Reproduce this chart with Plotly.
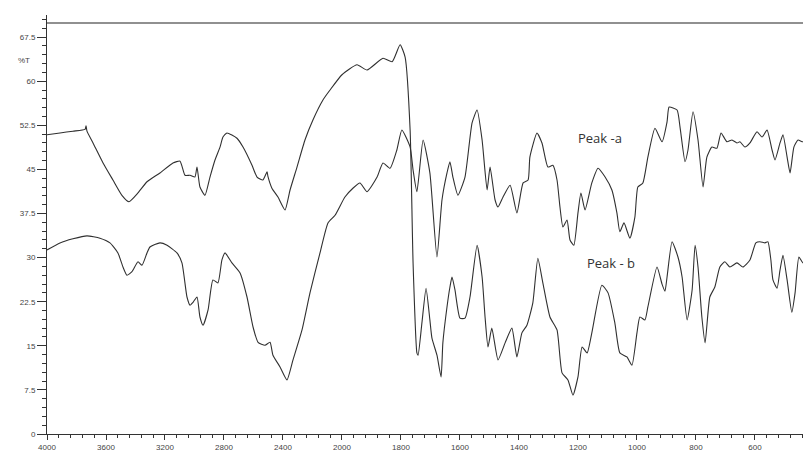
import plotly.graph_objects as go

# Peak -a : wavenumber (cm-1) and %T
wn_a = [4000, 3912, 3824, 3729, 3641, 3573, 3519, 3485, 3458, 3424, 3383, 3356, 3322, 3302,
        3234, 3186, 3119, 3085, 3051, 3030, 3010, 2983, 2963, 2942, 2908, 2875, 2841, 2814,
        2793, 2746, 2691, 2644, 2603, 2569, 2522, 2488, 2468, 2420, 2373, 2332, 2271, 2217,
        2149, 2095, 2047, 1990, 1963, 1939, 1915, 1881, 1861, 1837, 1814, 1797, 1769, 1759,
        1746, 1725, 1702, 1678, 1661, 1644, 1634, 1624, 1607, 1583, 1559, 1542, 1525, 1508,
        1498, 1481, 1471, 1454, 1430, 1407, 1386, 1369, 1363, 1339, 1322, 1302, 1285, 1271,
        1261, 1251, 1237, 1227, 1214, 1200, 1190, 1176, 1153, 1132, 1108, 1085, 1068, 1058,
        1044, 1024, 1007, 997, 980, 963, 939, 915, 898, 891, 864, 854, 837, 827, 810, 793,
        776, 763, 746, 729, 715, 695, 678, 661, 651, 634, 617, 593, 576, 559, 542, 532, 515,
        505, 491, 481, 468, 454, 437, 420, 410]
t_a = [31.3, 32.5, 33.2, 33.7, 33.3, 32.5, 30.8, 28.4, 27.0, 27.6, 29.3, 28.7, 30.8, 31.8,
       32.5, 32.1, 30.8, 29.1, 23.3, 21.9, 22.4, 23.3, 19.9, 18.5, 21.1, 26.2, 25.7, 29.6,
       30.8, 29.1, 27.4, 23.3, 18.2, 15.6, 15.1, 15.6, 13.4, 11.4, 9.2, 12.6, 17.7, 24.0,
       30.8, 35.9, 37.2, 40.3, 41.8, 42.7, 41.2, 43.7, 46.1, 45.2, 48.3, 51.7, 48.8, 44.9,
       41.2, 50.0, 44.4, 30.1, 39.8, 44.4, 46.3, 43.7, 40.6, 43.7, 52.9, 55.1, 50.0, 41.5,
       45.4, 39.8, 38.6, 40.3, 42.3, 37.6, 42.7, 43.2, 47.1, 51.2, 49.5, 45.4, 45.7, 43.2,
       38.6, 35.2, 36.4, 33.0, 32.1, 37.6, 41.0, 38.1, 42.7, 45.2, 43.7, 41.5, 37.6, 34.4,
       35.9, 33.3, 36.9, 42.0, 42.7, 47.1, 52.0, 49.7, 53.1, 55.6, 55.1, 52.2, 46.3, 48.3,
       54.8, 50.0, 42.0, 47.1, 48.8, 48.6, 51.2, 49.7, 50.0, 49.5, 49.7, 48.8, 49.5, 51.4,
       50.5, 51.7, 48.3, 46.6, 49.5, 50.9, 47.1, 44.4, 48.8, 50.0, 49.7, 50.9, 51.2]

# Peak - b : wavenumber (cm-1) and %T
wn_b = [4000, 3912, 3824, 3742, 3735, 3729, 3688, 3620, 3553, 3492, 3444, 3383, 3322, 3234,
        3146, 3098, 3064, 3030, 2997, 2983, 2963, 2929, 2895, 2861, 2827, 2807, 2780, 2712,
        2671, 2610, 2576, 2536, 2508, 2502, 2475, 2434, 2386, 2352, 2305, 2251, 2197, 2129,
        2081, 2000, 1949, 1915, 1861, 1830, 1803, 1786, 1769, 1759, 1746, 1742, 1729, 1715,
        1702, 1695, 1678, 1664, 1658, 1644, 1634, 1627, 1617, 1600, 1583, 1566, 1542, 1525,
        1515, 1505, 1492, 1471, 1447, 1424, 1407, 1390, 1373, 1353, 1336, 1319, 1295, 1271,
        1254, 1234, 1217, 1200, 1186, 1169, 1153, 1119, 1098, 1075, 1058, 1034, 1017, 1000,
        990, 973, 963, 932, 915, 905, 898, 881, 861, 847, 830, 813, 803, 793, 780, 769, 753,
        736, 719, 702, 685, 661, 641, 617, 597, 583, 566, 556, 546, 539, 525, 515, 505, 491,
        475, 464, 451, 437, 420, 410]
t_b = [50.9, 51.2, 51.5, 51.8, 52.4, 51.5, 49.5, 46.1, 43.2, 40.6, 39.5, 41.0, 42.9, 44.4,
       46.1, 46.4, 44.0, 44.0, 43.7, 45.4, 42.0, 40.6, 43.7, 46.6, 48.8, 50.5, 51.2, 50.3,
       48.8, 45.7, 43.7, 43.2, 44.6, 43.8, 41.8, 40.3, 38.1, 41.5, 45.4, 50.0, 53.4, 56.8,
       58.5, 61.1, 62.8, 61.9, 63.9, 63.3, 66.2, 64.1, 51.7, 29.1, 13.8, 13.4, 18.9, 24.8,
       19.4, 16.3, 13.4, 9.7, 15.5, 21.6, 25.0, 26.7, 24.5, 19.7, 19.7, 23.3, 32.1, 26.7,
       19.9, 14.8, 18.0, 12.6, 15.5, 18.0, 13.1, 17.2, 18.5, 22.3, 29.9, 25.7, 19.9, 17.7,
       10.4, 9.2, 6.6, 9.7, 14.8, 13.8, 17.2, 25.3, 24.0, 18.9, 13.8, 13.1, 11.7, 17.2,
       19.9, 19.4, 21.6, 28.4, 25.5, 24.3, 26.7, 32.7, 30.1, 26.7, 19.4, 24.5, 32.1, 28.4,
       19.9, 15.5, 23.3, 25.0, 28.4, 29.3, 28.4, 29.1, 28.4, 29.6, 32.5, 32.7, 32.5, 32.7,
       29.6, 26.2, 24.8, 27.9, 30.4, 26.2, 20.7, 24.0, 30.1, 29.1, 30.1, 31.3]

x_tick_labels = [4000, 3600, 3200, 2800, 2400, 2000, 1800, 1600, 1400, 1200, 1000, 800, 600, 400]
y_tick_vals = [0, 7.5, 15, 22.5, 30, 37.5, 45, 52.5, 60, 67.5]


def scale_x(w):
    # FTIR chart: scale above 2000 cm-1 is compressed by a factor of 2
    return w if w <= 2000 else 2000 + (w - 2000) / 2.0


line_col = "#303030"
fig = go.Figure()
fig.add_trace(go.Scatter(x=[scale_x(w) for w in wn_a], y=t_a, mode="lines", name="Peak -a",
                         line=dict(color=line_col, width=1.1, shape="spline", smoothing=0.5)))
fig.add_trace(go.Scatter(x=[scale_x(w) for w in wn_b], y=t_b, mode="lines", name="Peak - b",
                         line=dict(color=line_col, width=1.1, shape="spline", smoothing=0.5)))

tick_font = dict(family="Liberation Sans Narrow, Arial Narrow, Liberation Sans, Arial",
                 size=8, color="#444")

fig.update_layout(
    width=803, height=444,
    margin=dict(l=39, r=0, t=7, b=18),
    paper_bgcolor="white", plot_bgcolor="white",
    showlegend=False,
    xaxis=dict(
        range=[3000, 410],
        tickmode="array",
        tickvals=[scale_x(v) for v in x_tick_labels],
        ticktext=[str(v) for v in x_tick_labels],
        ticks="outside", ticklen=5, tickcolor="#333", tickwidth=1,
        minor=dict(dtick=40, tick0=0, ticks="outside", ticklen=3, tickcolor="#333"),
        showline=True, linecolor="#333", linewidth=1,
        showgrid=False, zeroline=False,
        tickfont=tick_font,
    ),
    yaxis=dict(
        range=[0, 71.26],
        tickmode="array",
        tickvals=y_tick_vals,
        ticktext=[("%g" % v) for v in y_tick_vals],
        ticks="outside", ticklen=9, tickcolor="#333", tickwidth=1,
        minor=dict(dtick=1.5, tick0=0, ticks="outside", ticklen=4, tickcolor="#333"),
        showline=True, linecolor="#333", linewidth=1,
        showgrid=False, zeroline=False,
        tickfont=tick_font,
    ),
    shapes=[
        dict(type="line", xref="paper", yref="y", x0=0, x1=1, y0=69.9, y1=69.9,
             line=dict(color="#222", width=1.2)),
        dict(type="line", xref="paper", yref="y", x0=0.999, x1=0.999, y0=67.3, y1=71.2,
             line=dict(color="#222", width=1.2)),
    ],
    annotations=[
        dict(text="%T", xref="paper", yref="y", x=-0.03, y=63.5, showarrow=False,
             xanchor="center", font=tick_font),
        dict(text="Peak -a", xref="x", yref="y", x=scale_x(1125), y=50.3, showarrow=False,
             font=dict(family="Open Sans, Noto Sans, sans-serif", size=13, color="#333")),
        dict(text="Peak - b", xref="x", yref="y", x=scale_x(1088), y=29.1, showarrow=False,
             font=dict(family="Open Sans, Noto Sans, sans-serif", size=13, color="#333")),
    ],
)

fig.write_html("out.html")
